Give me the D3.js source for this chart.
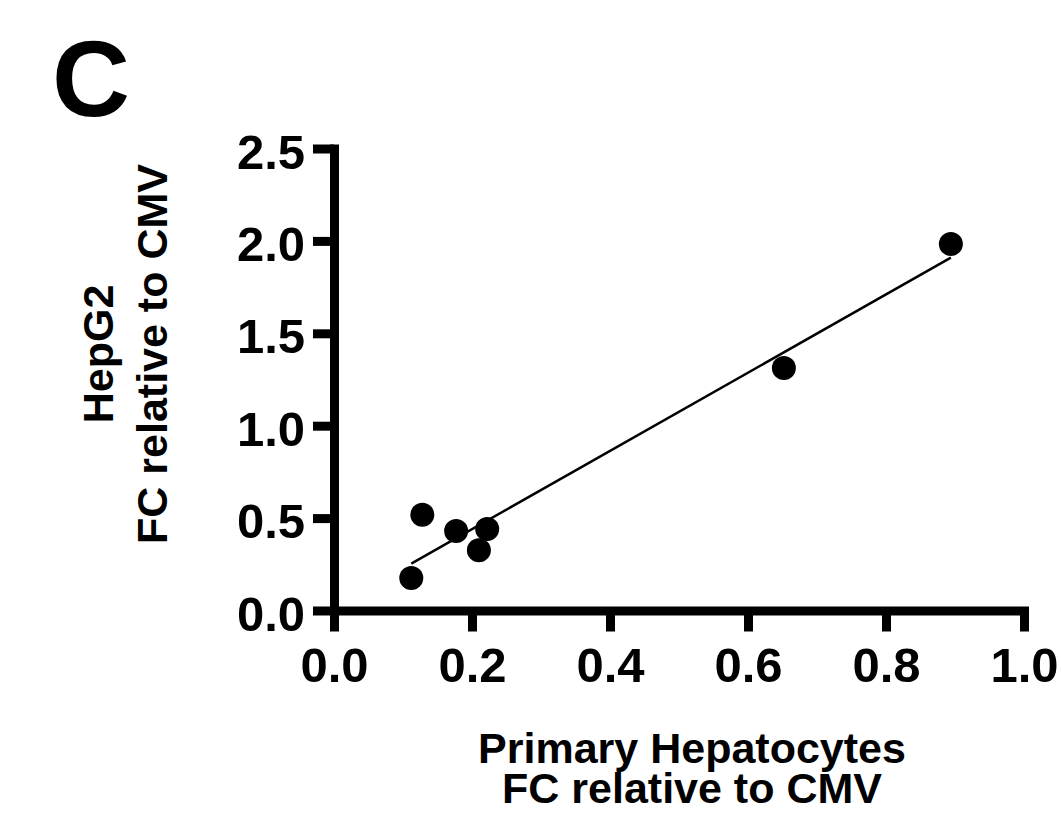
<!DOCTYPE html>
<html lang="en">
<head>
<meta charset="UTF-8">
<title>HepG2 vs Primary Hepatocytes</title>
<style>
  body { margin: 0; background: #fff; }
  svg { display: block; font-family: "Liberation Sans", Arial, sans-serif; font-weight: bold; }
  .axis path, .axis line { stroke: #000; stroke-width: 9; fill: none; }
  .axis path { stroke-linecap: square; }
  .axis text { font-size: 49px; font-weight: bold; fill: #000; font-family: "Liberation Sans", Arial, sans-serif; }
  .title { font-size: 43px; fill: #000; }
</style>
</head>
<body>
<div id="chart"></div>
<script src="https://d3js.org/d3.v7.min.js"></script>
<script>
// values (FC relative to CMV)
var primaryHep = [0.128, 0.177, 0.222, 0.210, 0.112, 0.652, 0.894];
var hepG2      = [0.518, 0.430, 0.441, 0.326, 0.176, 1.312, 1.983];
var xTicks = [0.0, 0.2, 0.4, 0.6, 0.8, 1.0];
var yTicks = [0.0, 0.5, 1.0, 1.5, 2.0, 2.5];

var W = 1061, H = 816;

var x = d3.scaleLinear().domain([0, 1]).range([334, 1024]);
var y = d3.scaleLinear().domain([0, 2.5]).range([610.5, 148.5]);

var svg = d3.select("#chart").append("svg")
  .attr("width", W)
  .attr("height", H);

// panel letter
svg.append("text")
  .attr("x", 52).attr("y", 116)
  .style("font-size", "108px")
  .text("C");

// regression line (least squares over the points)
var mx = d3.mean(primaryHep), my = d3.mean(hepG2);
var sxy = d3.sum(primaryHep, (d, i) => (d - mx) * (hepG2[i] - my));
var sxx = d3.sum(primaryHep, d => (d - mx) * (d - mx));
var slope = sxy / sxx, icpt = my - slope * mx;
var x0 = d3.min(primaryHep), x1 = d3.max(primaryHep);

svg.append("line")
  .attr("x1", x(x0)).attr("y1", y(icpt + slope * x0))
  .attr("x2", x(x1)).attr("y2", y(icpt + slope * x1))
  .attr("stroke", "#000")
  .attr("stroke-width", 2.5);

// axes
var xAxis = d3.axisBottom(x).tickValues(xTicks).tickFormat(d3.format(".1f"))
  .tickSizeInner(21).tickSizeOuter(0).tickPadding(16);
var yAxis = d3.axisLeft(y).tickValues(yTicks).tickFormat(d3.format(".1f"))
  .tickSizeInner(21).tickSizeOuter(0).tickPadding(8);

var gx = svg.append("g").attr("class", "axis")
  .attr("transform", `translate(0,${y(0)})`)
  .call(xAxis);

var gy = svg.append("g").attr("class", "axis")
  .attr("transform", `translate(${x(0)},0)`)
  .call(yAxis);
gy.selectAll("text").attr("dy", "0.4em");

// points
svg.append("g").selectAll("circle")
  .data(primaryHep)
  .enter().append("circle")
  .attr("cx", d => x(d))
  .attr("cy", (d, i) => y(hepG2[i]))
  .attr("r", 12)
  .attr("fill", "#000");

// axis titles
var xt = svg.append("text").attr("class", "title")
  .attr("text-anchor", "middle");
xt.append("tspan").attr("x", 692).attr("y", 763).text("Primary Hepatocytes");
xt.append("tspan").attr("x", 692).attr("y", 803).text("FC relative to CMV");

var yt = svg.append("text").attr("class", "title")
  .attr("text-anchor", "middle")
  .attr("transform", "translate(0,354) rotate(-90)");
yt.append("tspan").attr("x", 0).attr("y", 113).text("HepG2");
yt.append("tspan").attr("x", 0).attr("y", 167).text("FC relative to CMV");
</script>
</body>
</html>
